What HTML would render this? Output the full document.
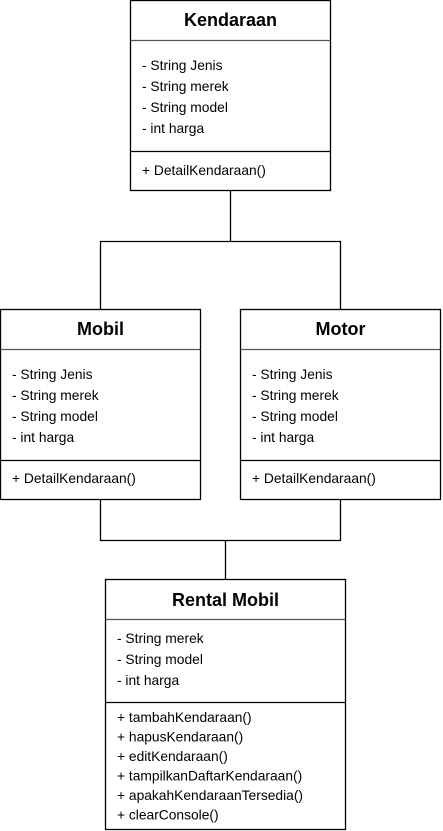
<!DOCTYPE html>
<html><head><meta charset="utf-8"><style>
html,body{margin:0;padding:0;background:#fff;}
svg{display:block;}
text{font-family:"Liberation Sans",Arial,sans-serif;fill:#000;}
.t{font-size:18px;font-weight:bold;text-anchor:middle;}
.a{font-size:13.8px;}
</style></head><body>
<svg width="443" height="831" viewBox="0 0 443 831" xmlns="http://www.w3.org/2000/svg">
<g fill="none" stroke="#000" stroke-width="1.3">
<rect x="130.5" y="0.5" width="200" height="190"/>
<line x1="130.5" y1="40.5" x2="330.5" y2="40.5" stroke="#555"/>
<line x1="130.5" y1="151.5" x2="330.5" y2="151.5"/>
<rect x="0.5" y="309.5" width="200" height="190"/>
<line x1="0.5" y1="349.5" x2="200.5" y2="349.5" stroke="#555"/>
<line x1="0.5" y1="460.5" x2="200.5" y2="460.5"/>
<rect x="240.5" y="309.5" width="200" height="190"/>
<line x1="240.5" y1="349.5" x2="440.5" y2="349.5" stroke="#555"/>
<line x1="240.5" y1="460.5" x2="440.5" y2="460.5"/>
<rect x="105.5" y="579.5" width="240" height="250"/>
<line x1="105.5" y1="619.5" x2="345.5" y2="619.5" stroke="#555"/>
<line x1="105.5" y1="702.5" x2="345.5" y2="702.5"/>
<polyline points="230.5,190.5 230.5,241.5"/>
<polyline points="100.5,309.5 100.5,241.5 340.5,241.5 340.5,309.5"/>
<polyline points="100.5,499.5 100.5,540.5 340.5,540.5 340.5,499.5"/>
<line x1="225.5" y1="540.5" x2="225.5" y2="579.5"/>
</g>
<text class="t" x="230.5" y="26">Kendaraan</text>
<text class="a" x="142" y="70">- String Jenis</text>
<text class="a" x="142" y="91">- String merek</text>
<text class="a" x="142" y="112">- String model</text>
<text class="a" x="142" y="133">- int harga</text>
<text class="a" x="142" y="175">+ DetailKendaraan()</text>

<text class="t" x="100.5" y="335">Mobil</text>
<text class="a" x="12" y="379">- String Jenis</text>
<text class="a" x="12" y="400">- String merek</text>
<text class="a" x="12" y="421">- String model</text>
<text class="a" x="12" y="442">- int harga</text>
<text class="a" x="12" y="483">+ DetailKendaraan()</text>

<text class="t" x="340.5" y="335">Motor</text>
<text class="a" x="252" y="379">- String Jenis</text>
<text class="a" x="252" y="400">- String merek</text>
<text class="a" x="252" y="421">- String model</text>
<text class="a" x="252" y="442">- int harga</text>
<text class="a" x="252" y="483">+ DetailKendaraan()</text>

<text class="t" x="225.5" y="606">Rental Mobil</text>
<text class="a" x="117" y="643">- String merek</text>
<text class="a" x="117" y="664">- String model</text>
<text class="a" x="117" y="685">- int harga</text>
<text class="a" x="117" y="722">+ tambahKendaraan()</text>
<text class="a" x="117" y="741.5">+ hapusKendaraan()</text>
<text class="a" x="117" y="761">+ editKendaraan()</text>
<text class="a" x="117" y="780.5">+ tampilkanDaftarKendaraan()</text>
<text class="a" x="117" y="800">+ apakahKendaraanTersedia()</text>
<text class="a" x="117" y="819.5">+ clearConsole()</text>
</svg>
</body></html>
